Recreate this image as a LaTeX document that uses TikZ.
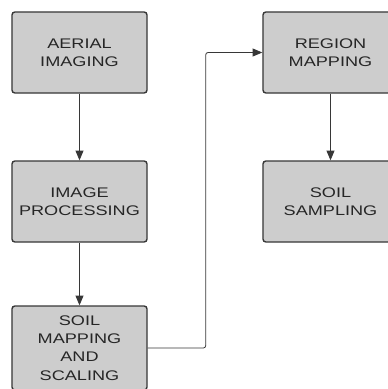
\documentclass[tikz,border=0pt]{standalone}
\usepackage{fontspec}
\setmainfont{Liberation Sans}[FakeStretch=1.3]
\usetikzlibrary{arrows.meta}
\definecolor{boxgray}{RGB}{205,205,205}
\definecolor{edgegray}{RGB}{55,55,55}

\begin{document}
\begin{tikzpicture}[x=0.03cm,y=-0.03cm]
  \tikzstyle{stage}=[draw=edgegray,line width=1.2pt,rounded corners=2.5pt,fill=boxgray,
    minimum width=4.05cm,minimum height=2.43cm,align=center,text=black!85,
    font=\fontsize{11.9}{15.5}\selectfont]
  \tikzstyle{f}=[-{Triangle[length=2.9mm,width=2.4mm]},edgegray,line width=0.7pt]

  \useasboundingbox (0,0) rectangle (387,389);

  \node[stage] (aerial) at (79.5,52.5) {AERIAL\\ IMAGING};
  \node[stage] (proc) at (79.5,201.5) {IMAGE\\ PROCESSING};
  \node[stage,minimum height=2.52cm] (smap) at (79.5,348) {SOIL\\ MAPPING\\ AND\\ SCALING};
  \node[stage] (region) at (330.5,52.5) {REGION\\ MAPPING};
  \node[stage] (samp) at (330.5,201.5) {SOIL\\ SAMPLING};

  \draw[f] (aerial) -- (proc);
  \draw[f] (proc) -- (smap);
  \draw[f,rounded corners=2pt] (smap.east) -- ++(58,0) |- (region.west);
  \draw[f] (region) -- (samp);
\end{tikzpicture}
\end{document}
